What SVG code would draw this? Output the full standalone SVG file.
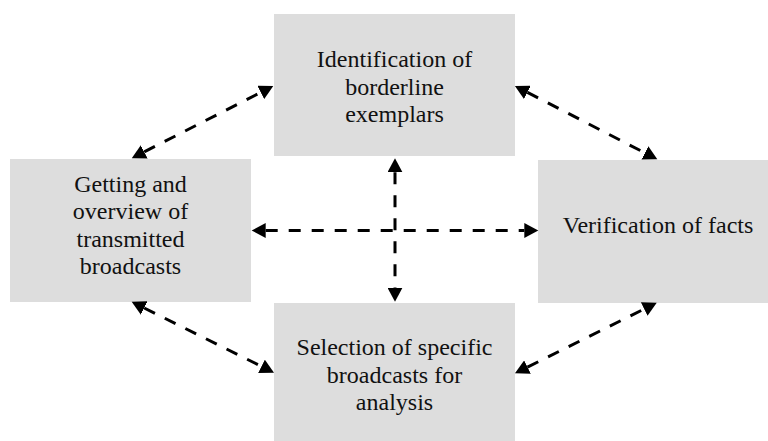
<svg xmlns="http://www.w3.org/2000/svg" width="768" height="441" viewBox="0 0 768 441">
<style>
.box{fill:#dddddd;stroke:none}
.conn{stroke:#000;stroke-width:3;stroke-dasharray:12 11;fill:none}
</style>
<defs>
<marker id="ah" markerUnits="userSpaceOnUse" markerWidth="15" markerHeight="15" viewBox="0 0 15 15" refX="0" refY="7.5" orient="auto-start-reverse">
<path d="M0,0 L14,7.5 L0,15 z" fill="#000"/>
</marker>
</defs>
<rect width="768" height="441" fill="#fff"/>
<g font-family="Liberation Serif, Times New Roman, serif" font-size="24" fill="#111" text-anchor="middle">
<g id="node-identification">
<rect class="box" x="274" y="14" width="241" height="142"/>
<text x="394.5" y="67">Identification of</text>
<text x="394.5" y="94.5">borderline</text>
<text x="394.5" y="122">exemplars</text>
</g>
<g id="node-getting">
<rect class="box" x="10" y="159" width="241" height="143"/>
<text x="130.5" y="192">Getting and</text>
<text x="130.5" y="219">overview of</text>
<text x="130.5" y="246.5">transmitted</text>
<text x="130.5" y="274">broadcasts</text>
</g>
<g id="node-verification">
<rect class="box" x="538" y="160" width="241" height="143"/>
<text x="658" y="233">Verification of facts</text>
</g>
<g id="node-selection">
<rect class="box" x="274" y="303" width="241" height="138"/>
<text x="394.5" y="355">Selection of specific</text>
<text x="394.5" y="382.5">broadcasts for</text>
<text x="394.5" y="410">analysis</text>
</g>
</g>
<g id="connectors" marker-start="url(#ah)" marker-end="url(#ah)">
<line class="conn" x1="144.2" y1="151.9" x2="260.8" y2="92.4"/>
<line class="conn" x1="527.4" y1="92.4" x2="644.9" y2="152.9"/>
<line class="conn" x1="144.2" y1="308" x2="261.5" y2="366.4"/>
<line class="conn" x1="527.5" y1="367.1" x2="644.2" y2="309"/>
<line class="conn" x1="265.7" y1="230.5" x2="524.3" y2="230.5"/>
<line class="conn" x1="395" y1="172.3" x2="395" y2="287.7"/>
</g>
</svg>
